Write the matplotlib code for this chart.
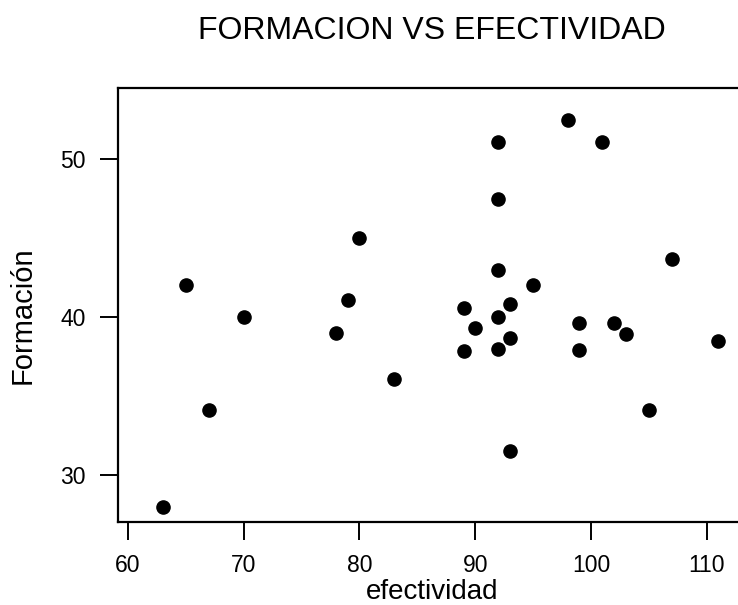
import matplotlib
matplotlib.use("Agg")
import matplotlib.pyplot as plt

efectividad = [63, 65, 67, 70, 78, 79, 80, 83, 89, 89, 90, 92, 92, 92, 92, 92,
               93, 93, 93, 95, 98, 99, 99, 101, 102, 103, 105, 107, 111]
formacion = [28.0, 42.0, 34.1, 40.0, 39.0, 41.1, 45.0, 36.1, 40.6, 37.85, 39.3, 51.1, 47.5, 43.0, 40.0, 38.0,
             40.8, 38.65, 31.5, 42.0, 52.5, 39.6, 37.9, 51.1, 39.6, 38.9, 34.1, 43.7, 38.5]
x_ticks = [60, 70, 80, 90, 100, 110]
y_ticks = [30, 40, 50]

plt.rcParams['font.family'] = ['Liberation Sans', 'DejaVu Sans']

W, H = 738, 605
fig = plt.figure(figsize=(W / 100, H / 100), dpi=100)
# axes box in pixels; the right edge runs past the image like in the scan
left, right, top, bottom = 118, 746, 88, 522
ax = fig.add_axes([left / W, (H - bottom) / H, (right - left) / W, (bottom - top) / H])

ax.scatter(efectividad, formacion, s=90, color="black", zorder=3)

ax.set_xlim(59.14, 113.4)
ax.set_ylim(27.03, 54.5)
ax.set_xticks(x_ticks)
ax.set_yticks(y_ticks)
ax.tick_params(direction="out", length=13, width=1.4, labelsize=16.5, pad=10)
for s in ax.spines.values():
    s.set_linewidth(1.6)

ax.set_xlabel("efectividad", fontsize=20, labelpad=1.5)
fig.text(23 / W, 1 - 315 / H, "Formación", fontsize=21, rotation=90,
         ha="center", va="center")
fig.text(432 / W, 1 - 39 / H, "FORMACION VS EFECTIVIDAD", fontsize=23,
         ha="center", va="baseline")

fig.savefig("out.png", dpi=100)
